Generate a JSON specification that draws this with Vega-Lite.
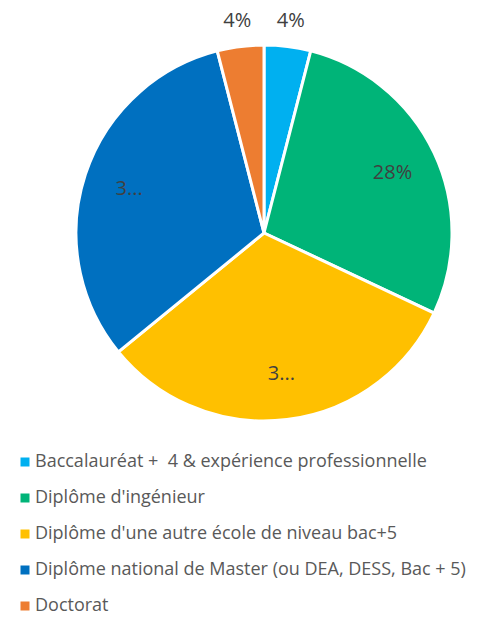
{
  "$schema": "https://vega.github.io/schema/vega-lite/v6.json",
  "width": 528,
  "height": 466,
  "autosize": "none",
  "padding": {"left": 0, "top": 0, "right": 0, "bottom": 153},
  "background": "white",
  "data": {
    "values": [
      {"idx": 1, "cat": "Baccalauréat + \u00a04 & expérience professionnelle", "value": 4, "label": "4%"},
      {"idx": 2, "cat": "Diplôme d'ingénieur", "value": 28, "label": "28%"},
      {"idx": 3, "cat": "Diplôme d'une autre école de niveau bac+5", "value": 32.1, "label": "3..."},
      {"idx": 4, "cat": "Diplôme national de Master (ou DEA, DESS, Bac + 5)", "value": 31.9, "label": "3..."},
      {"idx": 5, "cat": "Doctorat", "value": 4, "label": "4%"}
    ]
  },
  "encoding": {
    "theta": {"field": "value", "type": "quantitative", "stack": true},
    "order": {"field": "idx", "type": "quantitative", "sort": "ascending"}
  },
  "layer": [
    {
      "mark": {"type": "arc", "outerRadius": 188, "stroke": "white", "strokeWidth": 3},
      "encoding": {
        "color": {
          "field": "cat",
          "type": "nominal",
          "scale": {
            "domain": [
              "Baccalauréat + \u00a04 & expérience professionnelle",
              "Diplôme d'ingénieur",
              "Diplôme d'une autre école de niveau bac+5",
              "Diplôme national de Master (ou DEA, DESS, Bac + 5)",
              "Doctorat"
            ],
            "range": ["#00B0F0", "#00B478", "#FFC000", "#0070C0", "#ED7D31"]
          },
          "legend": {
            "title": null,
            "orient": "none",
            "legendX": 16,
            "legendY": 453,
            "symbolType": "square",
            "symbolSize": 81,
            "symbolStrokeWidth": 0,
            "labelFontSize": 18,
            "labelFont": "Open Sans",
            "labelColor": "#595959",
            "labelLimit": 600,
            "rowPadding": 18,
            "symbolOffset": 0,
            "labelOffset": 1
          }
        }
      }
    },
    {
      "mark": {"type": "text", "radius": 214, "fontSize": 20, "font": "Open Sans", "color": "#404040"},
      "encoding": {
        "text": {"field": "label"},
        "opacity": {"condition": {"test": "datum.value < 10", "value": 1}, "value": 0}
      }
    },
    {
      "mark": {"type": "text", "radius": 142, "fontSize": 20, "font": "Open Sans", "color": "#404040"},
      "encoding": {
        "text": {"field": "label"},
        "opacity": {"condition": {"test": "datum.value < 10", "value": 0}, "value": 1}
      }
    }
  ],
  "config": {"view": {"stroke": null}}
}
